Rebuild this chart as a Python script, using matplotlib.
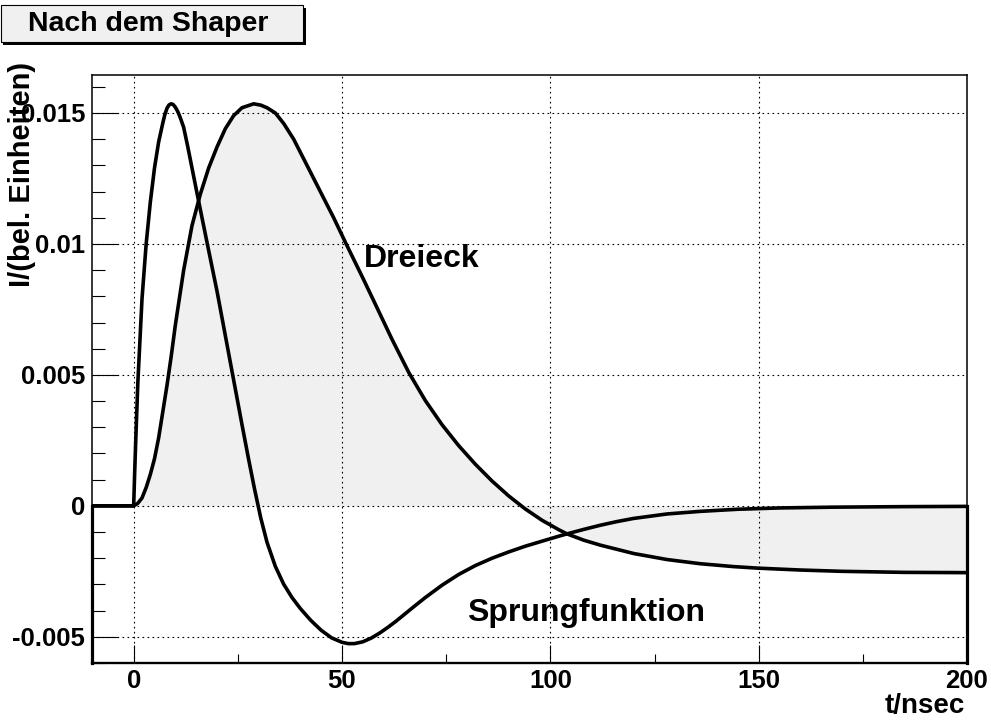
import numpy as np
import matplotlib
matplotlib.use("Agg")
import matplotlib.pyplot as plt
from matplotlib.patches import Rectangle
from matplotlib.ticker import FixedLocator, MultipleLocator

plt.rcParams['font.family'] = ['Liberation Sans', 'DejaVu Sans']
plt.rcParams['font.weight'] = 'bold'

# Antwort auf Sprungfunktion (t in ns, I in bel. Einheiten)
t_sprung = [-10, 0, 0.25, 0.5, 1, 2, 3, 4, 5, 6, 7, 7.5, 8, 8.5, 9, 9.5, 10, 10.5, 11,
            11.5, 12, 13, 14, 15, 16.4, 18, 20, 22, 24, 26, 27.5, 29, 30.5, 32, 34,
            36, 38, 40, 42.5, 45, 47.5, 50, 51.5, 53, 55, 57, 59, 61, 63, 65, 67, 70,
            74, 78, 82, 86, 90, 94, 98, 102, 104, 108, 112, 116, 120, 128, 136, 145,
            155, 168, 185, 200]
i_sprung = [0, 0, 0.0013, 0.0025, 0.0047, 0.0079, 0.0100, 0.0116, 0.0129, 0.0139,
            0.01462, 0.01495, 0.01518, 0.01531, 0.01535, 0.01532, 0.01522, 0.01508,
            0.0149, 0.01468, 0.01445, 0.0137, 0.0129, 0.0121, 0.0110, 0.00975,
            0.0082, 0.0065, 0.0048, 0.0031, 0.00185, 0.00065, -0.00046, -0.00139,
            -0.00231, -0.00299, -0.00350, -0.00392, -0.00437, -0.00475, -0.00504,
            -0.00521, -0.00526, -0.00526, -0.00519, -0.00505, -0.00486, -0.00464,
            -0.00440, -0.00414, -0.00388, -0.00350, -0.00303, -0.00262, -0.00228,
            -0.00200, -0.00176, -0.00154, -0.00135, -0.00116, -0.00107, -0.00090,
            -0.00074, -0.00060, -0.00048, -0.00031, -0.00021, -0.00013, -0.00008,
            -0.00005, -0.00003, -0.00002]

# Antwort auf Dreieckpuls
t_dreieck = [-10, 0, 1, 2, 3, 4, 5, 6, 7, 8, 9, 10, 12, 14, 16, 18, 20, 22, 24, 26,
             28.8, 30.5, 32, 34, 36, 38.4, 40, 41.6, 44.8, 48, 51, 55, 58, 62, 66, 70,
             74, 78, 82, 86, 90, 94, 98, 102, 104, 108, 112, 120, 128, 136, 144, 150,
             160, 170, 185, 200]
i_dreieck = [0, 0, 0.0001, 0.0003, 0.0007, 0.0012, 0.0018, 0.0026, 0.0036, 0.0046,
             0.0057, 0.0069, 0.0090, 0.0107, 0.0119, 0.0129, 0.0137, 0.0144, 0.0149,
             0.0152, 0.01535, 0.0153, 0.0152, 0.0150, 0.0146, 0.0140, 0.0135, 0.0130,
             0.0120, 0.0110, 0.0100, 0.0087, 0.0077, 0.00636, 0.00510, 0.00402,
             0.00310, 0.00230, 0.00159, 0.00095, 0.00038, -0.00012, -0.00055,
             -0.00091, -0.00107, -0.00131, -0.00150, -0.00182, -0.00205, -0.00221,
             -0.00232, -0.00238, -0.00245, -0.00250, -0.00254, -0.00255]

x_ticks = [0, 50, 100, 150, 200]
x_ticklabels = ['0', '50', '100', '150', '200']
y_ticks = [-0.005, 0, 0.005, 0.01, 0.015]
y_ticklabels = ['-0.005', '0', '0.005', '0.01', '0.015']

W, H = 991, 720
fig = plt.figure(figsize=(W / 100, H / 100), dpi=100)
ax = fig.add_axes([92 / W, 1 - 663 / H, (967 - 92) / W, (663 - 75) / H])

ax.fill_between(t_dreieck, i_dreieck, 0, color='#f0f0f0', lw=0, zorder=1)
ax.plot(t_dreieck, i_dreieck, color='black', lw=2.6, zorder=3,
        solid_joinstyle='round', solid_capstyle='round')
ax.plot(t_sprung, i_sprung, color='black', lw=2.6, zorder=3,
        solid_joinstyle='round', solid_capstyle='round')

ymin, ymax = -0.0060, 0.01645
ax.set_xlim(-10, 200)
ax.set_ylim(ymin, ymax)

# senkrechte Histogrammkanten an den Rändern
ax.plot([t_sprung[0], t_sprung[0]], [ymin, i_sprung[0]], color='black', lw=2.3,
        clip_on=False, zorder=4)
ax.plot([t_sprung[-1], t_sprung[-1]], [ymin, i_sprung[-1]], color='black', lw=2.3,
        clip_on=False, zorder=4)

ax.xaxis.set_major_locator(FixedLocator(x_ticks))
ax.set_xticklabels(x_ticklabels)
ax.xaxis.set_minor_locator(FixedLocator([25, 75, 125, 175]))
ax.yaxis.set_major_locator(FixedLocator(y_ticks))
ax.set_yticklabels(y_ticklabels)
ax.yaxis.set_minor_locator(MultipleLocator(0.001))

ax.tick_params(axis='x', which='major', direction='in', length=13, width=0.8,
               labelsize=18.5, pad=4)
ax.tick_params(axis='x', which='minor', direction='in', length=6.5, width=0.8)
ax.tick_params(axis='y', which='major', direction='in', length=18.7, width=0.8,
               labelsize=18.5, pad=5)
ax.tick_params(axis='y', which='minor', direction='in', length=9.4, width=0.8)
for lab in ax.get_xticklabels() + ax.get_yticklabels():
    lab.set_fontweight('bold')

ax.set_axisbelow('line')
ax.grid(True, which='major', color='black', lw=0.8, linestyle=(0, (1.5, 3)))

for side in ['top', 'right', 'left']:
    ax.spines[side].set_linewidth(1.1)
ax.spines['bottom'].set_linewidth(1.7)

ax.text(55.2, 0.00912, 'Dreieck', fontsize=23, fontweight='bold', va='baseline',
        ha='left', zorder=5)
ax.text(80.0, -0.00439, 'Sprungfunktion', fontsize=23, fontweight='bold',
        va='baseline', ha='left', zorder=5)

fig.text(965 / W, 1 - 706 / H, 't/nsec', fontsize=20, fontweight='bold',
         ha='right', va='center')
fig.text(22 / W, 1 - 62 / H, 'I/(bel. Einheiten)', fontsize=21, fontweight='bold',
         rotation=90, ha='center', va='top')

# Titelkasten mit Schatten
fig.patches.append(Rectangle((3 / W, 1 - 45 / H), 303 / W, 37 / H,
                             transform=fig.transFigure, facecolor='black',
                             edgecolor='none', zorder=1))
fig.patches.append(Rectangle((0.5 / W, 1 - 42 / H), 302 / W, 37 / H,
                             transform=fig.transFigure, facecolor='#f0f0f0',
                             edgecolor='black', lw=0.8, zorder=2))
fig.text(148 / W, 1 - 24 / H, 'Nach dem Shaper', fontsize=20.5, fontweight='bold',
         ha='center', va='center', zorder=3)

fig.savefig('out.png', dpi=100)
